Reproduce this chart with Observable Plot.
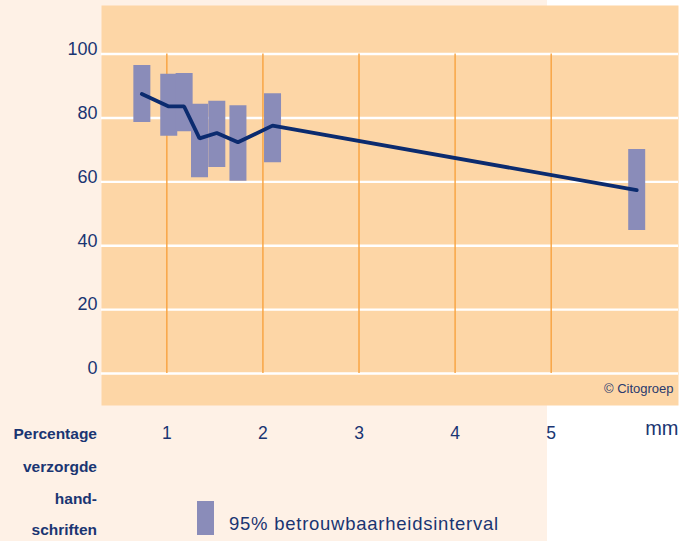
<!DOCTYPE html>
<html>
<head>
<meta charset="utf-8">
<script src="https://cdn.jsdelivr.net/npm/d3@7"></script>
<script src="https://cdn.jsdelivr.net/npm/@observablehq/plot@0.6"></script>
<style>
  html, body { margin: 0; padding: 0; background: #ffffff; }
  #wrap { position: relative; width: 690px; height: 541px; overflow: hidden; font-family: "Liberation Sans", Arial, sans-serif; color: #1a3572; }
  #peach { position: absolute; left: 0; top: 0; width: 547px; height: 541px; background: #fef1e6; }
  #chart { position: absolute; left: 0; top: 0; }
  .side { position: absolute; right: 593px; font-weight: bold; font-size: 15.5px; line-height: 1; white-space: nowrap; text-align: right; }
  #legend-swatch { position: absolute; left: 197px; top: 501px; width: 17px; height: 34px; background: #8a8cb9; }
  #legend-text { position: absolute; left: 229px; top: 515px; font-size: 18.5px; letter-spacing: 0.75px; white-space: nowrap; line-height: 1; }
</style>
</head>
<body>
<div id="wrap">
  <div id="peach"></div>
  <div id="chart"></div>
  <div id="side"></div>
  <div id="legend-swatch"></div>
  <div id="legend-text"></div>
</div>
<script>
// Data: line thickness (mm) vs percentage of neat handwritings, with 95% intervals
const thickness = [0.74, 1.02, 1.18, 1.34, 1.52, 1.74, 2.10, 5.89];
const percentage = [87.5, 83.6, 83.6, 73.6, 75.3, 72.4, 77.6, 57.4];
const lower95 = [78.6, 74.3, 75.7, 61.3, 64.5, 60.2, 66.0, 44.8];
const upper95 = [96.4, 93.7, 93.9, 84.3, 85.2, 83.8, 87.6, 70.1];

const yTicks = [0, 20, 40, 60, 80, 100];
const xTicks = [1, 2, 3, 4, 5];
const xUnit = "mm";
const copyright = "© Citogroep";
const sideLabel = ["Percentage", "verzorgde", "hand-", "schriften"];
const legendLabel = "95% betrouwbaarheidsinterval";

const data = thickness.map((x, i) => ({x, y: percentage[i], lo: lower95[i], hi: upper95[i]}));

const navy = "#1a3572";
const plot = Plot.plot({
  width: 690,
  height: 541,
  marginTop: 5,
  marginBottom: 136,
  marginLeft: 101,
  marginRight: 12,
  style: {background: "transparent", fontFamily: "'Liberation Sans', Arial, sans-serif", fontSize: "18px", color: navy},
  x: {domain: [0.32, 6.325]},
  y: {domain: [-10, 115.2]},
  marks: [
    Plot.frame({fill: "#fdd6a6", stroke: null}),
    Plot.ruleY(yTicks, {stroke: "#ffffff", strokeWidth: 2.4}),
    Plot.ruleX(xTicks, {y1: 0, y2: 100, stroke: "#f8a23f", strokeWidth: 1.4}),
    Plot.ruleX(data, {x: "x", y1: "lo", y2: "hi", stroke: "#8a8cb9", strokeWidth: 17}),
    Plot.line(data, {x: "x", y: "y", stroke: "#0b2b6f", strokeWidth: 3.8, strokeLinejoin: "miter"}),
    Plot.axisY({ticks: yTicks, tickSize: 0, tickPadding: 4, dy: -5, fontSize: 18, fill: navy, label: null}),
    Plot.axisX({ticks: xTicks, tickFormat: d => String(d), tickSize: 0, tickPadding: 21, fontSize: 17.5, fill: navy, label: null}),
    Plot.text([xUnit], {frameAnchor: "bottom-right", textAnchor: "end", dy: 29, fontSize: 20, fill: navy}),
    Plot.text([copyright], {frameAnchor: "bottom-right", textAnchor: "end", dx: -5, dy: -13, fontSize: 13, fill: "#2a3a6e"})
  ]
});
document.getElementById("chart").appendChild(plot);

const side = document.getElementById("side");
const sideTops = [426, 458.5, 491, 522];
sideLabel.forEach((t, i) => {
  const d = document.createElement("div");
  d.className = "side";
  d.style.top = sideTops[i] + "px";
  d.textContent = t;
  side.appendChild(d);
});
document.getElementById("legend-text").textContent = legendLabel;
</script>
</body>
</html>
